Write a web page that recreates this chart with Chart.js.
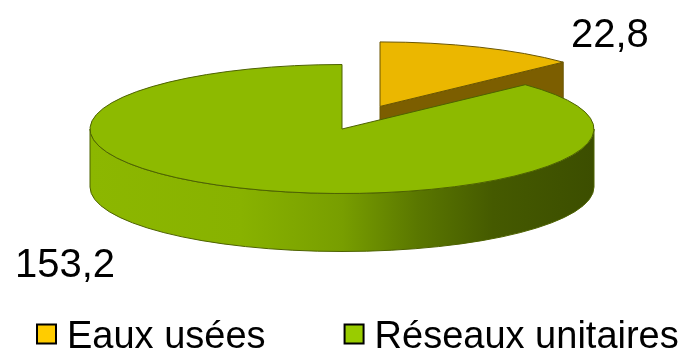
<!DOCTYPE html>
<html>
<head>
<meta charset="utf-8">
<script src="https://cdn.jsdelivr.net/npm/chart.js@4.4.0/dist/chart.umd.min.js"></script>
<style>
  html, body { margin: 0; padding: 0; background: #fff; }
  #wrap { width: 690px; height: 349px; }
</style>
</head>
<body>
<div id="wrap"><canvas id="pieChart" width="690" height="349"></canvas></div>
<script>
// Volumes per network type
const categories = ['Eaux usées', 'Réseaux unitaires'];
const volumes = [22.8, 153.2];

// Colours: top face, legend swatch, outline
const topColors = ['#ebb700', '#8dba00'];
const swatchColors = ['#ffcc00', '#99cc00'];
const edgeColors = ['#6a5500', '#4d6200'];

const FONT = '"Liberation Sans", Arial, sans-serif';
const TILT = 64.5 / 252;   // vertical squash of the disc
const DEPTH = 58;          // height of the side walls (px)
const EXPLODE = [96, 0];   // pull-out of each slice along its mid angle

// side wall shading, left to right
const sideStops = [
    [[0, '#8a6800'], [1, '#6e5300']],
    [[0, '#8cb700'], [0.3, '#88b200'], [0.5, '#789e00'], [0.65, '#5a7700'], [0.8, '#455a00'], [1, '#3c4e00']]
];
const faceColors = ['#7c5e00', '#5a7200'];

function fmt(v) {
    return v.toFixed(1).replace('.', ',');
}

// run fn with the context squashed around the pie centre
function tilted(ctx, cy, fn) {
    ctx.save();
    ctx.translate(0, cy);
    ctx.scale(1, TILT);
    ctx.translate(0, -cy);
    fn();
    ctx.restore();
}

// parts of [a0, a1] that face the viewer (lower half of the ellipse)
function frontRanges(a0, a1) {
    const out = [];
    for (let k = -1; k <= 1; k++) {
        const lo = Math.max(a0, 2 * Math.PI * k);
        const hi = Math.min(a1, 2 * Math.PI * k + Math.PI);
        if (hi > lo) out.push([lo, hi]);
    }
    return out;
}

const pie3d = {
    id: 'pie3d',
    beforeDatasetsDraw(chart) {
        const ctx = chart.ctx;
        const arcs = chart.getDatasetMeta(0).data;
        const d = DEPTH / TILT;

        arcs.forEach((arc, i) => {
            const { x, y, startAngle, endAngle, outerRadius: r } =
                arc.getProps(['x', 'y', 'startAngle', 'endAngle', 'outerRadius'], true);
            const mid = (startAngle + endAngle) / 2;
            const ox = Math.cos(mid) * EXPLODE[i];
            const oy = Math.sin(mid) * EXPLODE[i];
            const cx = x + ox, cy = y + oy;

            ctx.save();
            ctx.lineWidth = 1;
            ctx.strokeStyle = edgeColors[i];

            // cut faces turned towards the viewer
            const cuts = [];
            if (Math.cos(startAngle) < -1e-6) cuts.push(startAngle);
            if (Math.cos(endAngle) > 1e-6) cuts.push(endAngle);
            cuts.forEach(a => {
                ctx.beginPath();
                tilted(ctx, y, () => {
                    const ex = cx + r * Math.cos(a), ey = cy + r * Math.sin(a);
                    ctx.moveTo(cx, cy);
                    ctx.lineTo(ex, ey);
                    ctx.lineTo(ex, ey + d);
                    ctx.lineTo(cx, cy + d);
                    ctx.closePath();
                });
                ctx.fillStyle = faceColors[i];
                ctx.fill();
                ctx.stroke();
            });

            // curved outer wall
            frontRanges(startAngle, endAngle).forEach(([a0, a1]) => {
                ctx.beginPath();
                tilted(ctx, y, () => {
                    ctx.arc(cx, cy, r, a0, a1);
                    ctx.arc(cx, cy + d, r, a1, a0, true);
                    ctx.closePath();
                });
                const g = ctx.createLinearGradient(cx - r, 0, cx + r, 0);
                sideStops[i].forEach(([p, c]) => g.addColorStop(p, c));
                ctx.fillStyle = g;
                ctx.fill();
                ctx.stroke();
            });

            // top face drawn by the arc element itself
            tilted(ctx, y, () => {
                ctx.translate(ox, oy);
                arc.draw(ctx);
            });

            // outline of the top face, kept at an even 1px
            ctx.beginPath();
            tilted(ctx, y, () => {
                ctx.moveTo(cx, cy);
                ctx.arc(cx, cy, r, startAngle, endAngle);
                ctx.closePath();
            });
            ctx.stroke();
            ctx.restore();
        });
        return false;
    },
    afterDraw(chart, args, opts) {
        const ctx = chart.ctx;
        ctx.save();

        // value labels
        ctx.fillStyle = '#000';
        ctx.font = '40px ' + FONT;
        ctx.textAlign = 'left';
        ctx.textBaseline = 'alphabetic';
        volumes.forEach((v, i) => {
            const [lx, ly] = opts.labelAt[i];
            ctx.fillText(fmt(v), lx, ly);
        });

        // legend row
        ctx.font = '38px ' + FONT;
        let lx = opts.legendLeft;
        categories.forEach((name, i) => {
            ctx.fillStyle = swatchColors[i];
            ctx.fillRect(lx, opts.legendTop, 19, 19);
            ctx.lineWidth = 2;
            ctx.strokeStyle = '#000';
            ctx.strokeRect(lx, opts.legendTop, 19, 19);
            ctx.fillStyle = '#000';
            ctx.fillText(name, lx + 30, opts.legendBase);
            lx += 30 + ctx.measureText(name).width + 79;
        });
        ctx.restore();
    }
};

new Chart(document.getElementById('pieChart'), {
    type: 'pie',
    data: {
        labels: categories,
        datasets: [{
            data: volumes,
            backgroundColor: topColors,
            borderColor: edgeColors,
            borderWidth: 0,
            radius: 252
        }]
    },
    options: {
        responsive: false,
        animation: false,
        devicePixelRatio: 1,
        layout: { padding: { left: 0, right: 6, top: 0, bottom: 91 } },
        plugins: {
            legend: { display: false },
            tooltip: {
                callbacks: { label: c => c.label + ' : ' + fmt(c.raw) }
            },
            pie3d: {
                labelAt: [[571, 47], [15, 277]],
                legendLeft: 37,
                legendTop: 324.5,
                legendBase: 348
            }
        }
    },
    plugins: [pie3d]
});
</script>
</body>
</html>
